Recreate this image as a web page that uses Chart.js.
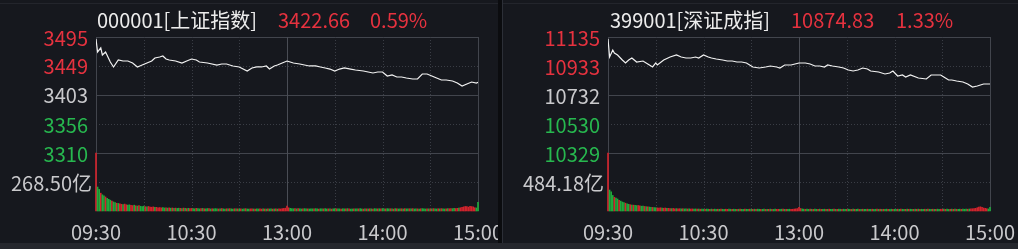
<!DOCTYPE html>
<html><head><meta charset="utf-8">
<script src="https://cdn.jsdelivr.net/npm/chart.js@4/dist/chart.umd.min.js"></script>
<style>
html,body{margin:0;padding:0;background:#16181e;width:1018px;height:249px;overflow:hidden}
#wrap{position:relative;width:1018px;height:249px;background:#16181e}
canvas{position:absolute;top:0}
#c1{left:0}#c2{left:504px}
.sep{position:absolute;top:0;left:498px;width:4px;height:243px;background:#0b0c0f}
.sep2{position:absolute;top:0;left:502px;width:1px;height:243px;background:#2c2f37}
.topl{position:absolute;top:3px;left:0;width:1018px;height:1px;background:#23252c}
.bottom{position:absolute;left:0;top:243px;width:1018px;height:6px;background:#25272d}
</style></head>
<body><div id="wrap">
<canvas id="c1" width="502" height="243"></canvas>
<canvas id="c2" width="514" height="243"></canvas>
<div class="topl"></div><div class="sep"></div><div class="sep2"></div><div class="bottom"></div>
</div>
<script>
// ---------- shared axis data ----------
const timeLabels = ['09:30','10:30','13:00','14:00','15:00'];
const timeLabelMinutes = [0,60,120,180,240];

// ---------- 000001 上证指数 ----------
const shTitle = '000001[上证指数]';
const shLast = '3422.66';
const shPct = '0.59%';
const shTicks = [3495,3449,3403,3356,3310];
const shVolLabel = '268.50亿';
const shVolMid = 268.50;
const shMinutes = [0,1,3,4,6,9,11,14,17,20,23,26,29,32,35,37,40,42,44,46,50,54,57,60,63,65,70,76,79,82,86,90,95,98,101,104,107,109,112,114,117,120,122,124,128,131,134,138,141,144,147,150,153,156,160,163,168,171,174,177,180,183,186,189,192,195,199,202,205,208,211,214,217,220,224,227,230,233,236,239,240];
const shPrices = [3491.8,3471.1,3477.5,3466.3,3471.1,3455.1,3447.2,3458.3,3456.7,3456.7,3453.5,3447.2,3450.3,3453.5,3456.7,3461.5,3463.1,3464.7,3459.9,3458.3,3456.7,3453.5,3456.7,3459.9,3458.3,3455.1,3453.5,3450.3,3451.9,3451.9,3448.8,3447.2,3440.8,3445.6,3447.2,3447.2,3448.8,3443.9,3448.8,3450.3,3453.5,3456.7,3455.1,3453.5,3451.9,3450.3,3448.8,3448.8,3447.2,3445.6,3443.9,3440.8,3443.9,3445.6,3443.9,3442.4,3440.8,3439.2,3437.6,3439.2,3439.2,3432.8,3434.4,3431.2,3431.2,3429.6,3428.0,3428.0,3436.0,3436.0,3432.8,3429.6,3426.4,3426.4,3424.8,3421.6,3416.9,3420.1,3423.2,3421.6,3422.66];
const shVolumes = [
537,222,200,165,150,140,130,118,108,100,92,84,78,72,70,
66,62,60,64,58,55,57,52,50,54,48,46,50,44,42,
45,40,38,42,36,35,38,33,34,30,32,29,31,28,30,
27,29,26,28,25,27,24,26,25,23,27,24,22,25,23,
24,22,21,25,23,20,22,24,21,20,23,22,19,21,20,
22,20,19,21,23,20,18,21,19,22,20,18,21,19,20,
19,21,18,20,22,19,18,20,21,19,18,20,19,21,18,
20,19,18,21,19,20,18,19,21,18,20,19,22,24,26,
45,30,25,22,21,23,20,22,21,19,20,22,21,20,19,
21,20,19,22,20,18,21,19,20,22,19,20,21,18,20,
22,21,19,20,18,21,20,19,22,20,18,19,21,20,19,
20,22,19,18,21,20,19,21,20,18,22,19,20,21,19,
23,21,20,22,19,21,20,18,22,21,19,20,21,19,22,
20,19,21,20,22,19,21,20,18,21,22,20,19,21,20,
19,21,22,20,19,21,20,22,21,19,20,22,21,23,22,
24,23,25,27,30,34,38,42,40,36,44,41,38,30,28,
80];
const shDirs =
'RGGRGGRGGGRGGRG'+'RRGRRGGRRGRGRGG'+'GRGRRRRGRRRRGGR'+'GRGRGRGGRGRGRGR'+
'RGGRGGRGRGGRGRG'+'GGRGRGGRGRGGRGR'+'GRGGRGGRRGRGGRR'+'GRGRGGRGRGRRRRR'+
'RRGGGRGRGGRGGRG'+'GGRGGRGGRGGRGRG'+'GRGGRGGRGRGGRGG'+'RGGRGRGRGRGGRGR'+
'GGRGGRGRGRGGRGR'+'GGRGRGGRGRGGGRG'+'RGRGGRGRGGRGRRG'+'GRRGRRRRRRRRRRG'+'G';

// ---------- 399001 深证成指 ----------
const szTitle = '399001[深证成指]';
const szLast = '10874.83';
const szPct = '1.33%';
const szTicks = [11135,10933,10732,10530,10329];
const szVolLabel = '484.18亿';
const szVolMid = 484.18;
const szMinutes = [0,1,3,4,6,9,11,13,15,18,22,25,28,30,31,35,39,43,46,49,52,55,57,60,63,65,68,72,75,78,81,84,87,91,95,99,102,106,108,111,115,120,124,127,130,133,136,138,141,145,148,151,154,157,160,163,165,170,174,177,179,182,185,187,190,195,200,203,206,209,211,214,216,219,223,226,229,232,234,236,240];
const szPrices = [11121.1,10996.0,11044.7,11023.8,11010.0,10975.2,10954.4,10975.2,10989.1,10961.3,10968.2,10947.4,10926.6,10954.4,10940.5,10975.2,10996.0,11010.0,10996.0,10989.1,10989.1,10996.0,10989.1,11010.0,10996.0,10989.1,10982.1,10975.2,10968.2,10968.2,10961.3,10961.3,10954.4,10926.6,10919.6,10926.6,10933.5,10926.6,10919.6,10940.5,10940.5,10954.4,10954.4,10947.4,10933.5,10933.5,10926.6,10940.5,10933.5,10926.6,10919.6,10905.7,10898.8,10905.7,10919.6,10912.7,10898.8,10891.8,10877.9,10884.9,10898.8,10864.0,10871.0,10857.1,10871.0,10850.1,10843.2,10871.0,10871.0,10871.0,10857.1,10836.2,10836.2,10829.3,10822.3,10808.4,10787.6,10794.5,10801.5,10808.4,10808.4];
const szVolumes = [
968,350,320,260,230,217,200,180,165,150,140,130,120,112,105,
100,98,95,90,92,85,80,82,76,72,70,66,62,60,58,
55,52,50,54,48,46,50,44,45,42,40,43,38,40,37,
39,36,38,35,37,34,36,33,35,32,34,31,33,30,32,
31,29,33,30,28,32,29,31,27,30,28,32,29,27,30,
28,31,29,27,30,28,26,29,31,28,27,30,29,28,31,
29,27,30,28,31,29,27,28,30,27,29,28,31,29,27,
30,28,29,27,30,31,28,29,27,30,28,29,33,36,40,
60,42,35,31,29,30,28,31,29,27,30,28,29,31,28,
27,30,29,28,31,27,29,30,28,27,31,29,28,30,27,
29,31,28,27,30,29,28,31,27,29,30,28,27,31,29,
28,30,27,29,31,28,30,27,29,28,31,29,27,30,28,
29,27,31,28,30,29,27,28,31,29,30,27,28,30,29,
31,28,29,27,30,28,31,29,27,30,28,29,31,28,30,
29,31,28,30,27,29,31,28,30,29,27,31,28,30,29,
31,30,33,35,38,40,45,55,65,70,62,50,45,38,34,
60];
const szDirs =
'RGGGRGGRGGGRGGR'+'GRGGRRGGRGRGGRG'+'GRRRGRRGRRGRRGR'+'RGRGGRGRRGGRGRG'+
'GRGGRGRGGRGRGGR'+'RGGRGGRGRGGRGGR'+'GRGRGGRGGRGRGRG'+'GRRGGRGRGGRRRRR'+
'RRGGRGGRGRGGRGR'+'GGRGRGGRGRGGRGG'+'RGGRGRGGRGRGGRG'+'GRGGRGRGRGGRGGR'+
'GGRGRGGRGRGGRGR'+'GRGGRGRGGRGRGGR'+'RGRGGRGRGRGGRGG'+'GRGRRRRRRRRRRRG'+'G';

// ---------- rendering ----------
const RED = '#e6323f', GREEN = '#27b84f', GRAYTXT = '#c9c9cc', WHITE = '#ececec';
const BAR_RED = '#d3242d', BAR_GREEN = '#1faa3c';
const FONT = '"Noto Sans CJK SC","Noto Sans",sans-serif';

function makePanel(id, d, L) {
  const pMax = d.ticks[0], pMin = d.ticks[d.ticks.length-1];
  const yMin = pMin - (pMax - pMin) / 2;
  const vMax = d.volMid * 2 * 3;
  const line = d.minutes.map((m,i)=>({x:m,y:d.prices[i]}));
  const bars = d.volumes.map((v,i)=>({x:i,y:v}));
  const barColors = d.volumes.map((v,i)=> d.dirs[i]==='R' ? BAR_RED : BAR_GREEN);

  const deco = {
    id:'deco'+id,
    beforeDatasetsDraw(chart){
      const ctx = chart.ctx, ca = chart.chartArea;
      const xs = chart.scales.x, ys = chart.scales.y, yv = chart.scales.yv;
      ctx.save();
      ctx.lineWidth = 1;
      const hline=(y,solid,col)=>{ y=Math.round(y)+0.5; ctx.strokeStyle=col; ctx.setLineDash(solid?[]:[1,2]);
        ctx.beginPath(); ctx.moveTo(ca.left,y); ctx.lineTo(ca.right,y); ctx.stroke(); };
      const vline=(x,solid,col)=>{ x=Math.round(x)+0.5; ctx.strokeStyle=col; ctx.setLineDash(solid?[]:[1,2]);
        ctx.beginPath(); ctx.moveTo(x,ca.top); ctx.lineTo(x,ca.bottom); ctx.stroke(); };
      d.ticks.forEach((t,i)=> hline(ys.getPixelForValue(t), i%2===0, i%2===0?'#42454d':'#3a3d45'));
      hline(yv.getPixelForValue(d.volMid), false, '#3a3d45');
      hline(ca.bottom-1, true, '#23252c');
      for (let m=0;m<=240;m+=30){
        const solid = (m===0||m===120||m===240);
        vline(xs.getPixelForValue(m), solid, m===120?'#4a4d55':(solid?'#42454d':'#3a3d45'));
      }
      ctx.restore();
    },
    afterDraw(chart){
      const ctx = chart.ctx, ca = chart.chartArea;
      const xs = chart.scales.x, ys = chart.scales.y, yv = chart.scales.yv;
      ctx.save();
      ctx.font = '20px '+FONT;
      ctx.textBaseline = 'middle';
      // title
      ctx.textAlign = 'left';
      ctx.fillStyle = WHITE; ctx.fillText(d.title, L.titleX, 20);
      ctx.fillStyle = RED; ctx.fillText(d.last, L.lastX, 20);
      ctx.fillText(d.pct, L.pctX, 20);
      // price ticks
      ctx.textAlign = 'right';
      const base = d.ticks[2];
      d.ticks.forEach(t=>{
        ctx.fillStyle = t>base ? RED : (t<base ? GREEN : GRAYTXT);
        ctx.fillText(String(t), ca.left-8, ys.getPixelForValue(t)+1);
      });
      ctx.fillStyle = GRAYTXT;
      ctx.fillText(d.volLabel, ca.left-4, yv.getPixelForValue(d.volMid)+1);
      // time labels
      ctx.textAlign = 'center';
      timeLabels.forEach((lab,i)=>{
        ctx.fillText(lab, xs.getPixelForValue(timeLabelMinutes[i]), 232);
      });
      ctx.restore();
    }
  };

  new Chart(document.getElementById(id), {
    data:{
      datasets:[
        {type:'line', data:line, xAxisID:'x', yAxisID:'y', borderColor:'#f2f2f2', borderWidth:1.2,
         pointRadius:0, tension:0, order:0},
        {type:'bar', data:bars, xAxisID:'x', yAxisID:'yv', backgroundColor:barColors,
         barThickness:1, clip:false, order:1}
      ]
    },
    options:{
      responsive:false, animation:false, events:[],
      layout:{padding:{left:L.left, right:L.right, top:37, bottom:32}},
      plugins:{legend:{display:false}, tooltip:{enabled:false}},
      scales:{
        x:{type:'linear', min:0, max:240, display:false, offset:false},
        y:{type:'linear', min:yMin, max:pMax, display:false},
        yv:{type:'linear', min:0, max:vMax, display:false}
      }
    },
    plugins:[deco]
  });
}

makePanel('c1', {title:shTitle,last:shLast,pct:shPct,ticks:shTicks,volLabel:shVolLabel,volMid:shVolMid,
  minutes:shMinutes,prices:shPrices,volumes:shVolumes,dirs:shDirs},
  {left:96,right:24,titleX:97,lastX:278,pctX:370});
makePanel('c2', {title:szTitle,last:szLast,pct:szPct,ticks:szTicks,volLabel:szVolLabel,volMid:szVolMid,
  minutes:szMinutes,prices:szPrices,volumes:szVolumes,dirs:szDirs},
  {left:104,right:28,titleX:106,lastX:287,pctX:392});
</script>
</body></html>
